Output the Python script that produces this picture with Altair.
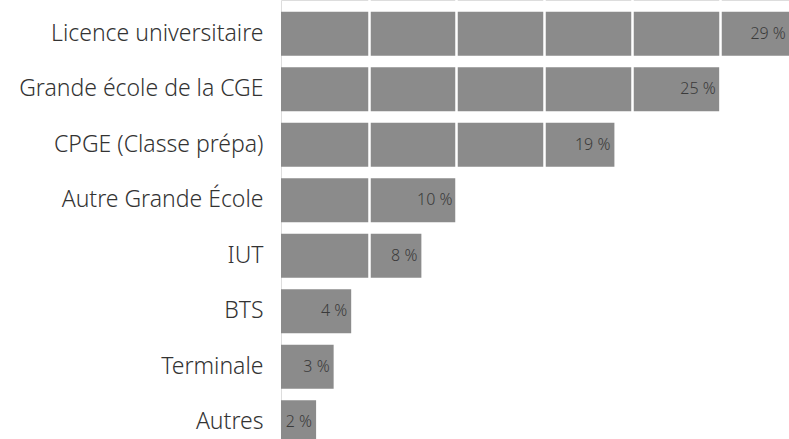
import altair as alt
import pandas as pd

categories = ["Licence universitaire", "Grande école de la CGE", "CPGE (Classe prépa)",
              "Autre Grande École", "IUT", "BTS", "Terminale", "Autres"]
values = [29, 25, 19, 10, 8, 4, 3, 2]
labels = ["29 %", "25 %", "19 %", "10 %", "8 %", "4 %", "3 %", "2 %"]
grid_ticks = [5, 10, 15, 20, 25]

df = pd.DataFrame({"cat": categories, "val": values, "lab": labels})

FONT = "Noto Sans"
xs = alt.Scale(domain=[0, 28.95], nice=False, zero=True)
ys = alt.Scale(domain=categories, range=[6, 450], paddingInner=0.207, paddingOuter=0.1035)

base = alt.Chart(df)

bars = base.mark_bar(color="#8b8b8b", clip=True).encode(
    x=alt.X("val:Q", scale=xs,
            axis=alt.Axis(values=grid_ticks, grid=True, gridColor="white", gridWidth=2.5,
                          gridOpacity=1, labels=False, ticks=False, domain=False,
                          title=None, zindex=1)),
    y=alt.Y("cat:N", scale=ys, sort=categories,
            axis=alt.Axis(title=None, ticks=False, domain=False, labelPadding=18,
                          labelFont=FONT, labelFontSize=23, labelFontWeight=300,
                          labelColor="#333333", labelLimit=400)),
)

text = base.mark_text(align="right", baseline="middle", dx=-4, font=FONT,
                      fontSize=16, fontWeight=300, color="#3a3a3a", clip=True).encode(
    x=alt.X("val:Q", scale=xs),
    y=alt.Y("cat:N", scale=ys, sort=categories),
    text="lab:N",
)

chart = alt.layer(bars, text).properties(
    width=508, height=439,
    autosize=alt.AutoSizeParams(type="none"),
    padding={"left": 281, "top": 0, "right": 0, "bottom": 0},
).configure_view(stroke=None).configure(background="white")

chart.save("out.html", embed_options={"renderer": "svg", "actions": False})
